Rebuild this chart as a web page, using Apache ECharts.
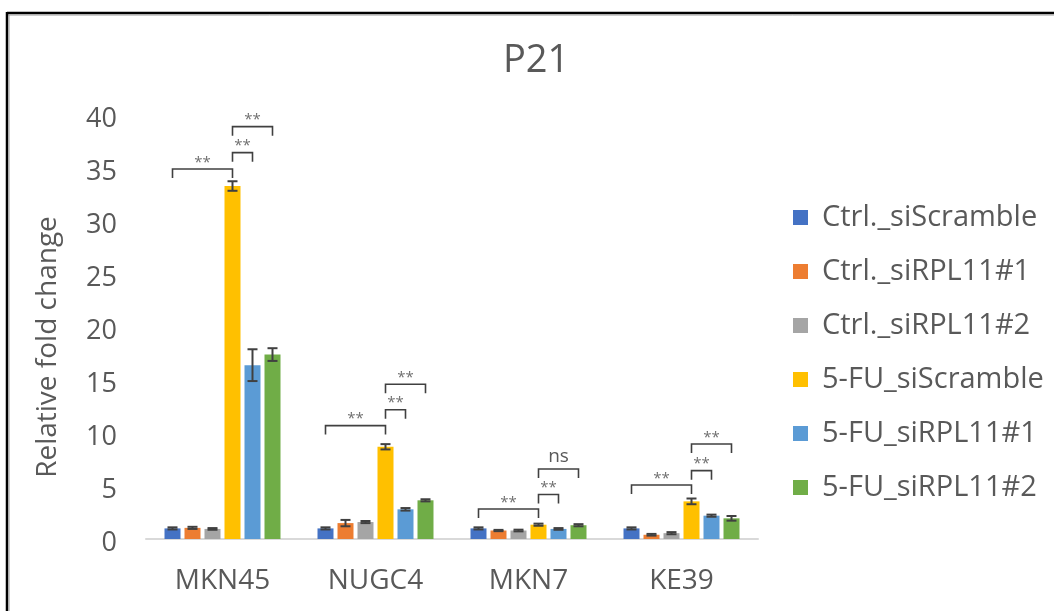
<!DOCTYPE html>
<html>
<head>
<meta charset="utf-8">
<script src="https://cdn.jsdelivr.net/npm/echarts@6/dist/echarts.min.js"></script>
<style>
  html, body { margin: 0; padding: 0; background: #fff; }
  #chart { width: 1054px; height: 611px; }
</style>
</head>
<body>
<div id="chart"></div>
<script>
// Cell lines on the x axis
const categories = ['MKN45', 'NUGC4', 'MKN7', 'KE39'];

// Treatment groups (one bar per group inside each cell line)
const seriesNames = [
  'Ctrl._siScramble',
  'Ctrl._siRPL11#1',
  'Ctrl._siRPL11#2',
  '5-FU_siScramble',
  '5-FU_siRPL11#1',
  '5-FU_siRPL11#2'
];

// Mean relative fold change, per group, across the four cell lines
const ctrlScramble = [1.0, 1.0, 1.0, 1.0];
const ctrlRpl1     = [1.05, 1.5, 0.8, 0.4];
const ctrlRpl2     = [0.95, 1.6, 0.8, 0.55];
const fuScramble   = [33.3, 8.7, 1.35, 3.55];
const fuRpl1       = [16.4, 2.8, 0.95, 2.2];
const fuRpl2       = [17.4, 3.65, 1.3, 1.95];

// Standard deviation for each mean above
const ctrlScrambleErr = [0.1, 0.1, 0.1, 0.1];
const ctrlRpl1Err     = [0.1, 0.3, 0.06, 0.08];
const ctrlRpl2Err     = [0.08, 0.1, 0.08, 0.1];
const fuScrambleErr   = [0.45, 0.25, 0.1, 0.27];
const fuRpl1Err       = [1.5, 0.12, 0.08, 0.1];
const fuRpl2Err       = [0.6, 0.1, 0.1, 0.22];

// Significance brackets: [cell line, from group, to group, height]
const brackets = [
  [0, 0, 3, 34.9], [0, 3, 4, 36.45], [0, 3, 5, 38.9],
  [1, 0, 3, 10.7], [1, 3, 4, 12.2],  [1, 3, 5, 14.6],
  [2, 0, 3, 2.83], [2, 3, 4, 4.2],   [2, 3, 5, 6.6],
  [3, 0, 3, 5.1],  [3, 3, 4, 6.45],  [3, 3, 5, 8.96]
];
const bracketLabels = [
  '**', '**', '**',
  '**', '**', '**',
  '**', '**', 'ns',
  '**', '**', '**'
];

// Y axis ticks
const yMin = 0, yMax = 40, yStep = 5;

const means = [ctrlScramble, ctrlRpl1, ctrlRpl2, fuScramble, fuRpl1, fuRpl2];
const errs  = [ctrlScrambleErr, ctrlRpl1Err, ctrlRpl2Err, fuScrambleErr, fuRpl1Err, fuRpl2Err];
const colors = ['#4472C4', '#ED7D31', '#A5A5A5', '#FFC000', '#5B9BD5', '#70AD47'];

const BAR_W = 16;
const BAR_GAP = 0.25;
const FONT = '"Open Sans", "Noto Sans", sans-serif';
const TEXT = '#595959';
const INK = '#404040';

// pixel offset of a group's bar centre from its category centre
function barOffset(i) {
  const n = seriesNames.length;
  const step = BAR_W * (1 + BAR_GAP);
  const total = n * BAR_W + (n - 1) * BAR_GAP * BAR_W;
  return -total / 2 + BAR_W / 2 + i * step;
}

const barSeries = seriesNames.map((name, i) => ({
  name: name,
  type: 'bar',
  data: means[i],
  barWidth: BAR_W,
  barGap: (BAR_GAP * 100) + '%',
  itemStyle: { color: colors[i] },
  z: 2
}));

// error bars: [category, group, mean, err]
const errData = [];
means.forEach((arr, g) => arr.forEach((m, c) => errData.push([c, g, m, errs[g][c]])));

const errorSeries = {
  type: 'custom',
  name: 'errors',
  data: errData,
  encode: { x: 0, y: 2 },
  z: 5,
  silent: true,
  renderItem: function (params, api) {
    const c = api.value(0), g = api.value(1), m = api.value(2), e = api.value(3);
    const off = barOffset(g);
    const top = api.coord([c, m + e]);
    const bot = api.coord([c, m - e]);
    const x = top[0] + off;
    const hw = 5;
    const style = { stroke: INK, lineWidth: 2, fill: null };
    return {
      type: 'group',
      children: [
        { type: 'line', shape: { x1: x, y1: top[1], x2: x, y2: bot[1] }, style: style },
        { type: 'line', shape: { x1: x - hw, y1: top[1], x2: x + hw, y2: top[1] }, style: style },
        { type: 'line', shape: { x1: x - hw, y1: bot[1], x2: x + hw, y2: bot[1] }, style: style }
      ]
    };
  }
};

const bracketSeries = {
  type: 'custom',
  name: 'significance',
  data: brackets,
  encode: { x: 0, y: 3 },
  z: 6,
  silent: true,
  renderItem: function (params, api) {
    const c = api.value(0), a = api.value(1), b = api.value(2), h = api.value(3);
    const p = api.coord([c, h]);
    const x1 = p[0] + barOffset(a);
    const x2 = p[0] + barOffset(b);
    const y = p[1];
    const leg = 9;
    const label = bracketLabels[params.dataIndex];
    const isNs = label === 'ns';
    return {
      type: 'group',
      children: [
        {
          type: 'polyline',
          shape: { points: [[x1, y + leg], [x1, y], [x2, y], [x2, y + leg]] },
          style: { stroke: INK, lineWidth: 1.6, fill: null }
        },
        {
          type: 'text',
          style: {
            text: label,
            x: (x1 + x2) / 2,
            y: isNs ? y - 3 : y + 1,
            textAlign: 'center',
            textVerticalAlign: 'bottom',
            font: (isNs ? '19px ' : '15px ') + FONT,
            fill: isNs ? TEXT : '#707070'
          }
        }
      ]
    };
  }
};

const chart = echarts.init(document.getElementById('chart'), null, { renderer: 'canvas' });

chart.setOption({
  animation: false,
  backgroundColor: '#ffffff',
  title: {
    text: 'P21',
    left: 498,
    top: 37,
    textStyle: { fontFamily: FONT, fontSize: 38, fontWeight: 'normal', color: TEXT }
  },
  legend: {
    data: seriesNames,
    orient: 'vertical',
    left: 793,
    top: 203,
    padding: 0,
    icon: 'rect',
    itemWidth: 15,
    itemHeight: 15,
    itemGap: 25,
    textStyle: { fontFamily: FONT, fontSize: 29, color: TEXT, lineHeight: 29, padding: [0, 0, 0, 9] }
  },
  grid: { left: 146, right: 296, top: 115, bottom: 72 },
  xAxis: {
    type: 'category',
    data: categories,
    axisLine: { lineStyle: { color: '#D9D9D9', width: 2 } },
    axisTick: { show: false },
    axisLabel: { fontFamily: FONT, fontSize: 28, color: TEXT, margin: 28 }
  },
  yAxis: {
    type: 'value',
    min: yMin,
    max: yMax,
    interval: yStep,
    name: 'Relative fold change',
    nameLocation: 'middle',
    nameRotate: 90,
    nameGap: 84,
    nameTextStyle: { fontFamily: FONT, fontSize: 28, color: TEXT, padding: [0, 40, 0, 0] },
    axisLine: { show: false },
    axisTick: { show: false },
    splitLine: { show: false },
    axisLabel: { fontFamily: FONT, fontSize: 27, color: TEXT, margin: 29, verticalAlign: 'top', lineHeight: 8 }
  },
  graphic: [
    { type: 'line', shape: { x1: 7, y1: 13, x2: 1054, y2: 13 }, style: { stroke: '#000', lineWidth: 2.5 } },
    { type: 'line', shape: { x1: 8, y1: 15, x2: 1054, y2: 15 }, style: { stroke: '#9a9a9a', lineWidth: 1 } },
    { type: 'line', shape: { x1: 7, y1: 12, x2: 7, y2: 611 }, style: { stroke: '#000', lineWidth: 2.5 } },
    { type: 'line', shape: { x1: 9, y1: 15, x2: 9, y2: 611 }, style: { stroke: '#9a9a9a', lineWidth: 1 } }
  ],
  series: barSeries.concat([errorSeries, bracketSeries])
});
</script>
</body>
</html>
